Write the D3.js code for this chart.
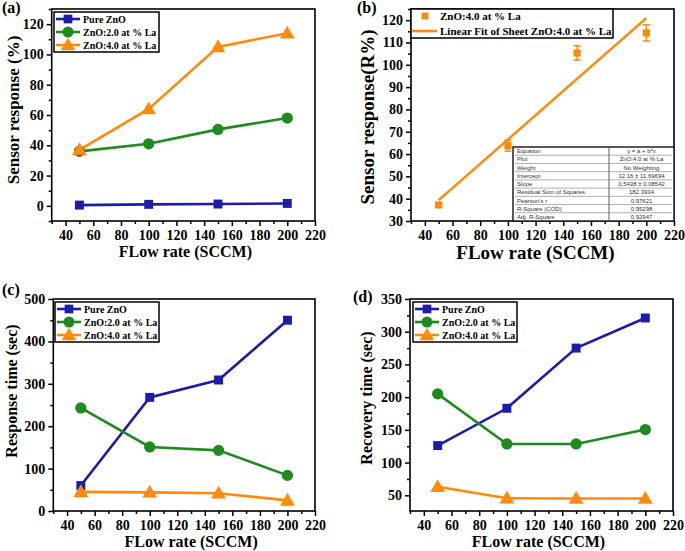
<!DOCTYPE html>
<html><head><meta charset="utf-8">
<script src="https://cdn.jsdelivr.net/npm/d3@7"></script>
<style>
body{margin:0;background:#fff;}
svg{display:block;font-family:"Liberation Serif","Times New Roman",serif;}
</style></head>
<body><svg id="chart" width="685" height="551"></svg>
<script>
// ---------- data ----------
const flowRates = [50, 100, 150, 200];
const seriesNames = ["Pure ZnO", "ZnO:2.0 at % La", "ZnO:4.0 at % La"];
const seriesColors = ["#1c1ca8", "#1f8a1f", "#ff8a0c"];
const seriesShapes = ["square", "circle", "triangle"];

const sensorPure = [0.5, 1.0, 1.2, 1.6];
const sensorLa2 = [36, 41, 50.5, 58];
const sensorLa4 = [37, 64, 105, 114];

const fitPoints = [37.2, 63.8, 105.3, 114.3];
const fitErrors = [1.0, 2.5, 3.2, 3.6];
const fitIntercept = 12.16;
const fitSlope = 0.5438;
const fitLegend = ["ZnO:4.0 at % La", "Linear Fit of Sheet ZnO:4.0 at % La"];
const tableKeys = ["Equation", "Plot", "Weight", "Intercept", "Slope", "Residual Sum of Squares", "Pearson's r", "R-Square (COD)", "Adj. R-Square"];
const tableValues = ["y = a + b*x", "ZnO:4.0 at % La", "No Weighting", "12.16 \u00b1 11.69694", "0.5438 \u00b1 0.08542", "182.3934", "0.97621", "0.95298", "0.92947"];

const respPure = [60, 268, 309, 450];
const respLa2 = [243, 151, 143, 84];
const respLa4 = [45, 44, 42, 25];

const recPure = [126, 183, 275, 321];
const recLa2 = [205, 128.5, 128.5, 150.5];
const recLa4 = [63, 45.5, 45, 45];

const xTicks = [40, 60, 80, 100, 120, 140, 160, 180, 200, 220];
const yTicksA = [0, 20, 40, 60, 80, 100, 120];
const yTicksB = [30, 40, 50, 60, 70, 80, 90, 100, 110, 120];
const yTicksC = [0, 100, 200, 300, 400, 500];
const yTicksD = [50, 100, 150, 200, 250, 300, 350];
const xTitle = "FLow rate (SCCM)";

// ---------- helpers ----------
const svg = d3.select("#chart");

function symbolPath(shape, s) {
  const t = shape === "square" ? d3.symbolSquare : shape === "circle" ? d3.symbolCircle : d3.symbolTriangle;
  const size = shape === "square" ? 80 * s : shape === "circle" ? 100 * s : 95 * s;
  return d3.symbol().type(t).size(size)();
}

function makePanel(cfg) {
  const g = svg.append("g");
  const x = d3.scaleLinear().domain([30, 220]).range([cfg.left, cfg.right]);
  const y = d3.scaleLinear().domain(cfg.yDomain).range([cfg.bottom, cfg.top]);
  // minor ticks
  const xMinor = d3.range(30, 221, 10).filter(v => v % 20 !== 0);
  g.append("g").attr("transform", `translate(0,${cfg.bottom})`)
    .call(d3.axisBottom(x).tickValues(xMinor).tickSize(3).tickFormat(""))
    .call(a => a.select(".domain").remove())
    .selectAll("line").attr("stroke", "#000").attr("stroke-width", 1.5);
  const yMinor = d3.range(cfg.yTicks[0] - cfg.yStep / 2, cfg.yDomain[1] + 0.01, cfg.yStep / 2)
    .filter(v => v >= cfg.yDomain[0] && !cfg.yTicks.includes(v));
  g.append("g").attr("transform", `translate(${cfg.left},0)`)
    .call(d3.axisLeft(y).tickValues(yMinor).tickSize(3).tickFormat(""))
    .call(a => a.select(".domain").remove())
    .selectAll("line").attr("stroke", "#000").attr("stroke-width", 1.5);
  // major
  const xa = g.append("g").attr("transform", `translate(0,${cfg.bottom})`)
    .call(d3.axisBottom(x).tickValues(xTicks).tickSize(5).tickPadding(4).tickFormat(d3.format("d")));
  xa.select(".domain").remove();
  xa.selectAll("line").attr("stroke", "#000").attr("stroke-width", 1.5);
  xa.selectAll("text").attr("font-family", "Liberation Serif").attr("font-weight", "bold")
    .attr("font-size", cfg.tickFont).attr("fill", "#000");
  const ya = g.append("g").attr("transform", `translate(${cfg.left},0)`)
    .call(d3.axisLeft(y).tickValues(cfg.yTicks).tickSize(5).tickPadding(3).tickFormat(d3.format("d")));
  ya.select(".domain").remove();
  ya.selectAll("line").attr("stroke", "#000").attr("stroke-width", 1.5);
  ya.selectAll("text").attr("font-family", "Liberation Serif").attr("font-weight", "bold")
    .attr("font-size", cfg.tickFont).attr("fill", "#000");
  // frame
  g.append("rect").attr("x", cfg.left).attr("y", cfg.top)
    .attr("width", cfg.right - cfg.left).attr("height", cfg.bottom - cfg.top)
    .attr("fill", "none").attr("stroke", "#000").attr("stroke-width", 1.6);
  // titles
  g.append("text").attr("x", (cfg.left + cfg.right) / 2 - cfg.xTitleShift).attr("y", cfg.xTitleY)
    .attr("text-anchor", "middle").attr("font-weight", "bold").attr("font-size", cfg.xTitleFont)
    .text(xTitle);
  g.append("text").attr("transform", `translate(${cfg.yTitleX},${cfg.yTitleMid}) rotate(-90)`)
    .attr("text-anchor", "middle").attr("font-weight", "bold").attr("font-size", cfg.yTitleFont)
    .text(cfg.yTitle);
  g.append("text").attr("x", cfg.labelX).attr("y", cfg.labelY)
    .attr("font-weight", "bold").attr("font-size", 16).text(cfg.label);
  return {g, x, y};
}

function drawSeries(p, lists) {
  const line = d3.line().x((d, i) => p.x(flowRates[i])).y(d => p.y(d));
  lists.forEach((vals, k) => {
    p.g.append("path").datum(vals).attr("d", line).attr("fill", "none")
      .attr("stroke", seriesColors[k]).attr("stroke-width", 2.6);
  });
  lists.forEach((vals, k) => {
    p.g.selectAll(null).data(vals).enter().append("path")
      .attr("d", symbolPath(seriesShapes[k], 1))
      .attr("transform", (d, i) => `translate(${p.x(flowRates[i])},${p.y(d) + (seriesShapes[k] === "triangle" ? 1 : 0)})`)
      .attr("fill", seriesColors[k]);
  });
}

function drawLegend(g, bx, by, bw, bh) {
  g.append("rect").attr("x", bx).attr("y", by).attr("width", bw).attr("height", bh)
    .attr("fill", "#fff").attr("stroke", "#000").attr("stroke-width", 1.5);
  seriesNames.forEach((name, k) => {
    const cy = by + 7 + k * 13;
    g.append("line").attr("x1", bx + 2).attr("x2", bx + 26).attr("y1", cy).attr("y2", cy)
      .attr("stroke", seriesColors[k]).attr("stroke-width", 2.6);
    g.append("path").attr("d", symbolPath(seriesShapes[k], 0.95))
      .attr("transform", `translate(${bx + 14},${cy + (seriesShapes[k] === "triangle" ? 1 : 0)})`)
      .attr("fill", seriesColors[k]);
    g.append("text").attr("x", bx + 29).attr("y", cy + 3.5).attr("font-weight", "bold")
      .attr("font-size", 10).text(name);
  });
}

// ---------- panel (a) ----------
const pa = makePanel({left: 51.7, right: 315, top: 9, bottom: 221, yDomain: [-10, 130], yTicks: yTicksA, yStep: 20,
  tickFont: 14, xTitleY: 257, xTitleFont: 16, xTitleShift: -2, yTitle: "Sensor response (%)", yTitleX: 19, yTitleMid: 110,
  yTitleFont: 17, label: "(a)", labelX: 2, labelY: 13});
drawSeries(pa, [sensorPure, sensorLa2, sensorLa4]);
drawLegend(pa.g, 54, 12, 105, 40);

// ---------- panel (b) ----------
const pb = makePanel({left: 411, right: 674, top: 9, bottom: 221, yDomain: [30, 125], yTicks: yTicksB, yStep: 10,
  tickFont: 14, xTitleY: 259, xTitleFont: 19, xTitleShift: 7, yTitle: "Sensor response(R%)", yTitleX: 374, yTitleMid: 117,
  yTitleFont: 19, label: "(b)", labelX: 357, labelY: 13});
{
  const fit = d3.line().x(d => pb.x(d)).y(d => pb.y(fitIntercept + fitSlope * d));
  pb.g.append("path").datum([flowRates[0], flowRates[flowRates.length - 1]]).attr("d", fit)
    .attr("stroke", seriesColors[2]).attr("stroke-width", 2.6).attr("fill", "none");
  fitPoints.forEach((v, i) => {
    const cx = pb.x(flowRates[i]);
    const e = fitErrors[i];
    pb.g.append("line").attr("x1", cx).attr("x2", cx).attr("y1", pb.y(v - e)).attr("y2", pb.y(v + e))
      .attr("stroke", seriesColors[2]).attr("stroke-width", 1.5);
    [v - e, v + e].forEach(w => pb.g.append("line").attr("x1", cx - 3.5).attr("x2", cx + 3.5)
      .attr("y1", pb.y(w)).attr("y2", pb.y(w)).attr("stroke", seriesColors[2]).attr("stroke-width", 1.5));
    pb.g.append("path").attr("d", symbolPath("square", 0.65)).attr("transform", `translate(${cx},${pb.y(v)})`)
      .attr("fill", seriesColors[2]);
  });
  // legend
  const lg = pb.g;
  lg.append("rect").attr("x", 411).attr("y", 9).attr("width", 202).attr("height", 29)
    .attr("fill", "#fff").attr("stroke", "#000").attr("stroke-width", 1.5);
  lg.append("path").attr("d", symbolPath("square", 0.6)).attr("transform", "translate(425,16)").attr("fill", seriesColors[2]);
  lg.append("line").attr("x1", 412).attr("x2", 437).attr("y1", 31).attr("y2", 31)
    .attr("stroke", seriesColors[2]).attr("stroke-width", 2.6);
  fitLegend.forEach((t, k) => lg.append("text").attr("x", 440).attr("y", 20 + k * 14.5)
    .attr("font-weight", "bold").attr("font-size", 11).text(t));
  // stats table
  const tx0 = 513, tx1 = 674, tcol = 609, ty0 = 147, ty1 = 221;
  const rh = (ty1 - ty0) / tableKeys.length;
  const tg = pb.g.append("g").attr("font-family", "Liberation Sans, Arial, sans-serif");
  tg.append("rect").attr("x", tx0).attr("y", ty0).attr("width", tx1 - tx0).attr("height", ty1 - ty0)
    .attr("fill", "#fff").attr("stroke", "#222").attr("stroke-width", 1.5);
  tableKeys.forEach((k, i) => {
    if (i > 0) tg.append("line").attr("x1", tx0 + 2).attr("x2", tx1 - 2).attr("y1", ty0 + i * rh).attr("y2", ty0 + i * rh)
      .attr("stroke", "#9a9a9a").attr("stroke-width", 0.8);
    tg.append("text").attr("x", tx0 + 4).attr("y", ty0 + i * rh + rh - 2).attr("font-size", 6).attr("fill", "#333").text(k);
    tg.append("text").attr("x", (tcol + tx1) / 2).attr("y", ty0 + i * rh + rh - 2).attr("font-size", 6)
      .attr("text-anchor", "middle").attr("fill", "#333").text(tableValues[i]);
  });
  tg.append("line").attr("x1", tcol).attr("x2", tcol).attr("y1", ty0 + 1).attr("y2", ty1 - 1)
    .attr("stroke", "#777").attr("stroke-width", 1.2);
}

// ---------- panel (c) ----------
const pc = makePanel({left: 53.3, right: 315, top: 299, bottom: 511, yDomain: [0, 500], yTicks: yTicksC, yStep: 100,
  tickFont: 14, xTitleY: 547, xTitleFont: 16, xTitleShift: -7, yTitle: "Response time (sec)", yTitleX: 17, yTitleMid: 391,
  yTitleFont: 16, label: "(c)", labelX: 2, labelY: 295});
drawSeries(pc, [respPure, respLa2, respLa4]);
drawLegend(pc.g, 55, 302, 104, 40);

// ---------- panel (d) ----------
const pd = makePanel({left: 410, right: 673, top: 299, bottom: 511, yDomain: [26, 350], yTicks: yTicksD, yStep: 50,
  tickFont: 14, xTitleY: 547, xTitleFont: 16, xTitleShift: 3, yTitle: "Recovery time (sec)", yTitleX: 372, yTitleMid: 398,
  yTitleFont: 16, label: "(d)", labelX: 353, labelY: 302});
drawSeries(pd, [recPure, recLa2, recLa4]);
drawLegend(pd.g, 413, 302, 104, 40);
</script></body></html>
